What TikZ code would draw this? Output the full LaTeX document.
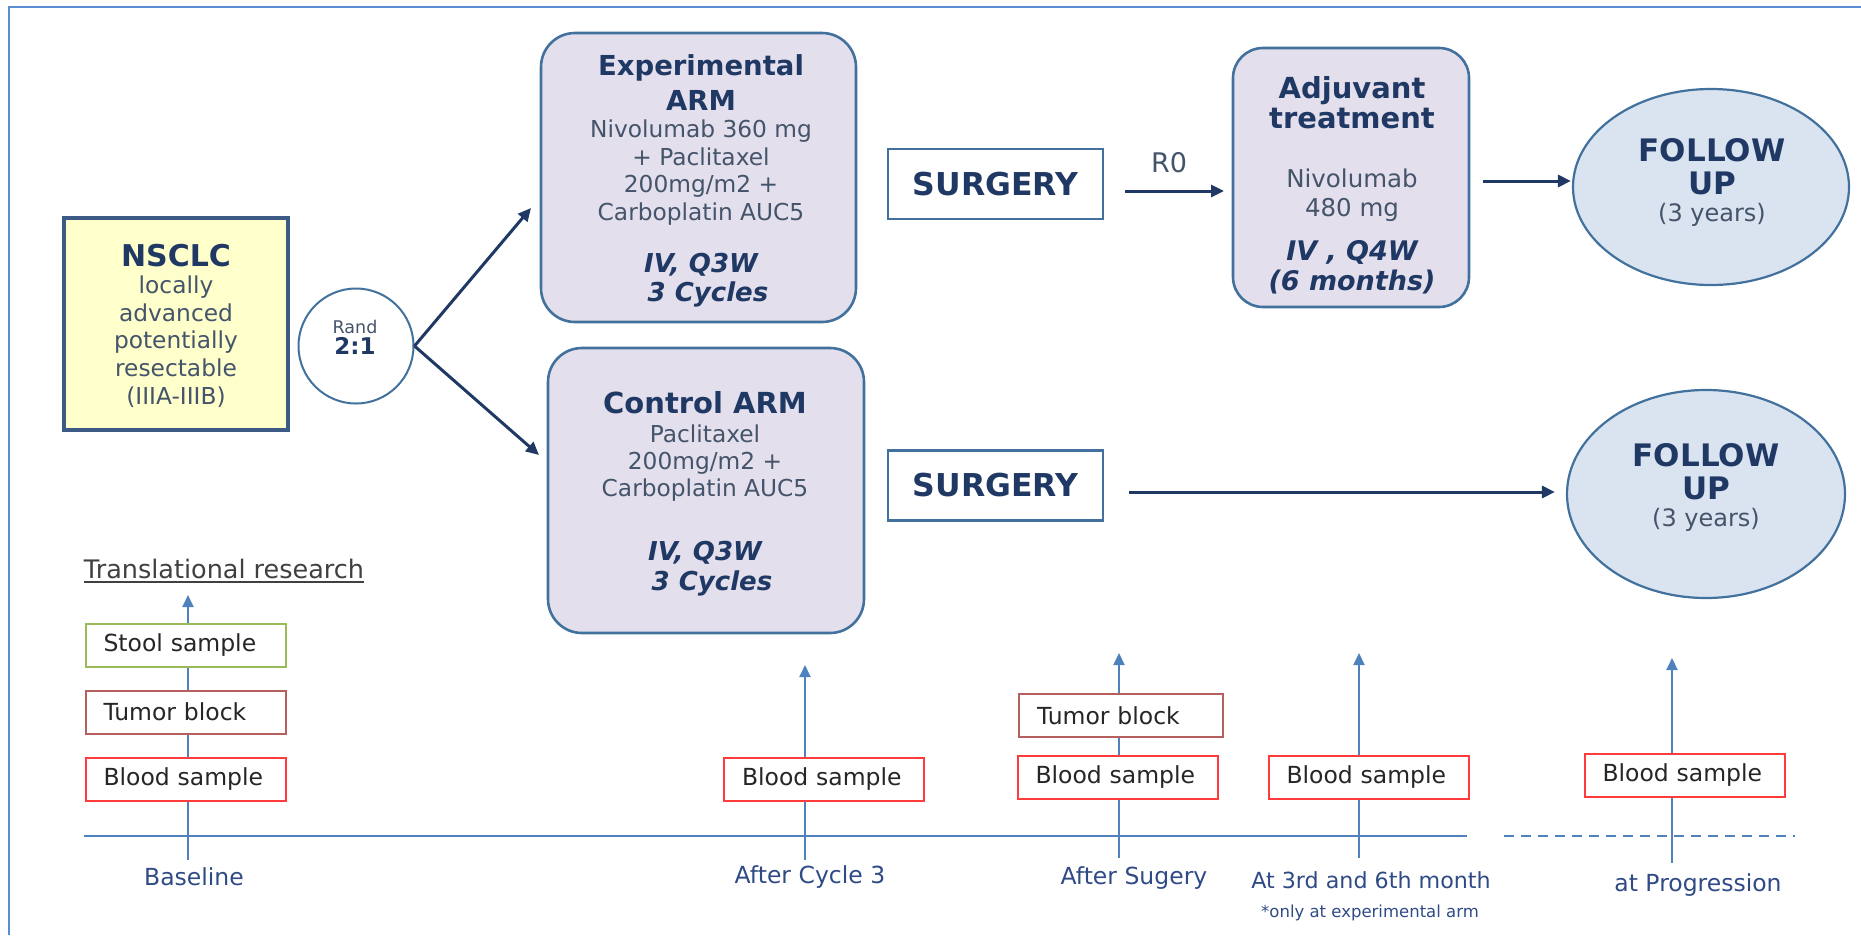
\documentclass[tikz,border=0pt]{standalone}
\usepackage{fontspec}
\setmainfont{DejaVu Sans}
\usetikzlibrary{arrows.meta,shapes.geometric}
\definecolor{navy}{HTML}{1F3864}
\definecolor{bodyc}{HTML}{44546A}
\definecolor{bordc}{HTML}{41719C}
\definecolor{nsb}{HTML}{3B5A86}
\definecolor{lav}{HTML}{E4DFEC}
\definecolor{fup}{HTML}{DAE3F0}
\definecolor{yel}{HTML}{FFFFCC}
\definecolor{tlc}{HTML}{4F81BD}
\definecolor{tlabc}{HTML}{2F4A85}
\definecolor{stoolc}{HTML}{9BBB59}
\definecolor{tumorc}{HTML}{B5605E}
\definecolor{bloodc}{HTML}{FF3B3B}
\definecolor{framec}{HTML}{5B8DD4}
\definecolor{txtdark}{HTML}{262626}
\definecolor{grayfour}{HTML}{404040}
\newcommand{\fsz}[2]{\fontsize{#1}{#2}\selectfont}
\begin{document}
\begin{tikzpicture}[x=1pt,y=-1pt,
  armbox/.style={draw=bordc, line width=2.6pt, fill=lav, rounded corners=34pt, inner sep=0pt, outer sep=0pt},
  ttl/.style={text=navy, align=center, inner sep=0pt},
  bod/.style={text=bodyc, align=center, inner sep=0pt},
  itl/.style={text=navy, align=center, inner sep=0pt},
  surg/.style={draw=bordc, line width=2.4pt, fill=white, minimum width=215pt, minimum height=70pt, inner sep=0pt, text=navy, font=\fsz{31.5}{36}\bfseries},
  fu/.style={ellipse, draw=bordc, line width=2.2pt, fill=fup, inner sep=0pt},
  flow/.style={draw=navy, line width=3pt, -{Triangle[length=13pt,width=12pt]}},
  tline/.style={draw=tlc, line width=2pt},
  tarr/.style={tline, -{Triangle[length=12pt,width=11pt]}},
  smp/.style={draw, fill=white, line width=2pt, text=txtdark, inner xsep=18pt, inner ysep=0pt, minimum height=43pt, text width=164pt, align=left, font=\fsz{23.5}{28}},
  tlab/.style={text=tlabc, font=\fsz{23.5}{28}, inner sep=0pt}
]
\useasboundingbox (0,0) rectangle (1861,935);
% frame
\draw[draw=framec, line width=2pt] (8,7) -- (1861,7);
\draw[draw=framec, line width=2pt] (9,7) -- (9,935);

% NSCLC
\node[draw=nsb, line width=4pt, fill=yel, minimum width=224pt, minimum height=212pt, inner sep=0pt] (ns) at (176,324) {};
\node[ttl, font=\fsz{30}{36}\bfseries] (nsT) at (176,256) {NSCLC};
\node[bod, font=\fsz{23.3}{27.75}] (nsB) at (176,341.5) {locally\\advanced\\potentially\\resectable\\(IIIA-IIIB)};

% Rand
\node[circle, draw=bordc, line width=2pt, fill=white, minimum size=115pt, inner sep=0pt] (rand) at (356,346) {};
\node[bod, font=\fsz{17.5}{20}] (randT) at (355,327) {Rand};
\node[ttl, font=\fsz{23}{28}\bfseries] (randR) at (355,346) {2:1};

% Experimental arm
\node[armbox, minimum width=315pt, minimum height=289pt] (exp) at (698.5,177.5) {};
\node[ttl, font=\fsz{27.5}{35}\bfseries] (expT) at (701,82.5) {Experimental\\ARM};
\node[bod, font=\fsz{23.3}{27.7}] (expB) at (701,172.5) {Nivolumab 360 mg\\+ Paclitaxel\\200mg/m2 +\\Carboplatin AUC5};
\node[itl, font=\fsz{26}{29}\bfseries\itshape] (expI) at (701,280) {IV, Q3W\\\hspace*{14pt}3 Cycles};

% Control arm
\node[armbox, minimum width=316pt, minimum height=285pt] (ctl) at (706,490.5) {};
\node[ttl, font=\fsz{29}{35}\bfseries] (ctlT) at (705,403) {Control ARM};
\node[bod, font=\fsz{23.3}{27}] (ctlB) at (705,463.5) {Paclitaxel\\200mg/m2 +\\Carboplatin AUC5};
\node[itl, font=\fsz{26}{30}\bfseries\itshape] (ctlI) at (705,569) {IV, Q3W\\\hspace*{14pt}3 Cycles};

% Surgery
\node[surg] (s1) at (995.5,184) {SURGERY};
\node[surg] (s2) at (995.5,485.5) {SURGERY};

% Adjuvant
\node[armbox, rounded corners=30pt, minimum width=236pt, minimum height=259pt] (adj) at (1351,177.5) {};
\node[ttl, font=\fsz{29}{30}\bfseries] (adjT) at (1352,103) {Adjuvant\\treatment};
\node[bod, font=\fsz{24.5}{29}] (adjB) at (1352,195) {Nivolumab\\480 mg};
\node[itl, font=\fsz{27}{30}\bfseries\itshape] (adjI) at (1352,267.5) {IV , Q4W\\(6 months)};

% Follow up
\node[fu, minimum width=276pt, minimum height=196pt] (fu1) at (1711,187) {};
\node[ttl, font=\fsz{31}{33}\bfseries] (fu1T) at (1712,166.5) {FOLLOW\\UP};
\node[bod, font=\fsz{24}{28}] (fu1B) at (1712,215) {(3 years)};
\node[fu, minimum width=278pt, minimum height=208pt] (fu2) at (1706,494) {};
\node[ttl, font=\fsz{31}{33}\bfseries] (fu2T) at (1706,472) {FOLLOW\\UP};
\node[bod, font=\fsz{24}{28}] (fu2B) at (1706,520) {(3 years)};

% flow arrows
\coordinate (a1) at (531,208);
\coordinate (a2) at (539,455);
\draw[flow] (rand.east) -- (a1);
\draw[flow] (rand.east) -- (a2);
\coordinate (r0s) at (1125,191);
\coordinate (r0e) at (1224,191);
\draw[flow] (r0s) -- (r0e);
\node[bod, font=\fsz{27}{30}] (r0) at (1169,163) {R0};
\coordinate (a3s) at (1483,181);
\draw[flow] (a3s) -- ([xshift=-1pt]a3s -| fu1.west);
\coordinate (a4s) at (1129,492);
\draw[flow] (a4s) -- ([xshift=-11pt]a4s -| fu2.west);

% translational research
\node[inner sep=0pt, text=grayfour, font=\fsz{25.5}{30}] (tr) at (224,569) {Translational research};
\draw[draw=grayfour, line width=1.5pt] ([yshift=-3pt]tr.south west) -- ([yshift=-3pt]tr.south east);

% timeline
\draw[tline] (84,836) -- (1467,836);
\draw[tline, dash pattern=on 10pt off 7pt] (1504,836) -- (1795,836);
\coordinate (v0b) at (188,860);  \coordinate (v0t) at (188,595);
\coordinate (v1b) at (805,860);  \coordinate (v1t) at (805,665);
\coordinate (v2b) at (1119,858); \coordinate (v2t) at (1119,653);
\coordinate (v3b) at (1359,858); \coordinate (v3t) at (1359,653);
\coordinate (v4b) at (1672,863); \coordinate (v4t) at (1672,658);
\draw[tarr] (v0b) -- (v0t);
\draw[tarr] (v1b) -- (v1t);
\draw[tarr] (v2b) -- (v2t);
\draw[tarr] (v3b) -- (v3t);
\draw[tarr] (v4b) -- (v4t);

% samples
\node[smp, draw=stoolc] (st0) at (185.5,645) {Stool sample};
\node[smp, draw=tumorc] (tb0) at (185.5,712) {Tumor block};
\node[smp, draw=bloodc] (bs0) at (185.5,779) {Blood sample};
\node[smp, draw=bloodc] (bs1) at (824,779) {Blood sample};
\node[smp, draw=tumorc, text width=168pt] (tb2) at (1121,715.5) {Tumor block};
\node[smp, draw=bloodc] (bs2) at (1117.5,777) {Blood sample};
\node[smp, draw=bloodc] (bs3) at (1368.5,777) {Blood sample};
\node[smp, draw=bloodc] (bs4) at (1684.5,775.5) {Blood sample};

% labels
\node[tlab] (l0) at (194,877) {Baseline};
\node[tlab] (l1) at (810,877) {After Cycle 3};
\node[tlab] (l2) at (1134,878) {After Sugery};
\node[tlab, font=\fsz{22.2}{26}] (l3) at (1371,880) {At 3rd and 6th month};
\node[tlab, font=\fsz{16.5}{20}] (l3n) at (1370,913) {*only at experimental arm};
\node[tlab] (l4) at (1698,885) {at Progression};
\end{tikzpicture}
\end{document}
